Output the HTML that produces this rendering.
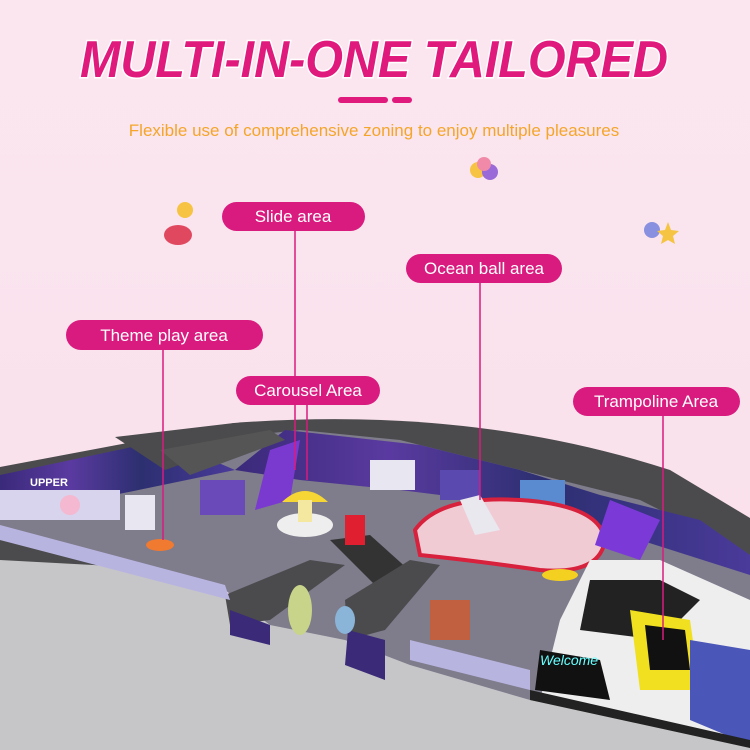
<!DOCTYPE html>
<html><head><meta charset="utf-8"><style>
html,body{margin:0;padding:0;width:750px;height:750px;overflow:hidden;background:#fae4ee}
svg{display:block}
text{font-family:"Liberation Sans",sans-serif}
</style></head><body>
<svg width="750" height="750" viewBox="0 0 750 750" xmlns="http://www.w3.org/2000/svg">
<defs>
<linearGradient id="bg" x1="0" y1="0" x2="0" y2="1"><stop offset="0" stop-color="#fbe6ef"/><stop offset="1" stop-color="#f9dfeb"/></linearGradient>
<linearGradient id="wall" x1="0" y1="0" x2="1" y2="0"><stop offset="0" stop-color="#3a2a7a"/><stop offset=".3" stop-color="#5a3aa0"/><stop offset=".6" stop-color="#2c2f70"/><stop offset="1" stop-color="#4a3a9a"/></linearGradient>
</defs>
<rect width="750" height="750" fill="url(#bg)"/>
<polygon points="0,520 230,600 750,700 750,750 0,750" fill="#c6c6c8"/>
<path d="M0,467 L234,423 Q470,405 670,470 L750,518 L750,600 L0,560 Z" fill="#4b4b4d"/>
<polygon points="0,480 160,445 300,430 400,440 520,470 640,500 750,555 750,745 530,700 410,665 345,640 270,625 225,590 0,540" fill="#7f7c8c"/>
<polygon points="0,475 165,440 235,470 90,500 0,510" fill="url(#wall)"/>
<polygon points="235,470 285,430 420,445 520,470 600,495 700,520 750,555 750,575 640,540 520,505 400,490 300,480" fill="url(#wall)"/>
<rect x="0" y="490" width="120" height="30" fill="#d9d4ee"/>
<circle cx="70" cy="505" r="10" fill="#f4b8d0"/>
<rect x="125" y="495" width="30" height="35" fill="#e8e6f0"/>
<rect x="200" y="480" width="45" height="35" fill="#6a4ab8"/>
<rect x="370" y="460" width="45" height="30" fill="#e8e6f0"/>
<rect x="440" y="470" width="40" height="30" fill="#5a4ab0"/>
<rect x="520" y="480" width="45" height="40" fill="#5a8ad0"/>
<text x="30" y="486" font-size="11" fill="#fff" font-weight="bold">UPPER</text>
<polygon points="115,437 234,423 270,433 165,470" fill="#4b4b4d"/>
<polygon points="160,450 270,430 285,440 190,475" fill="#555"/>
<polygon points="270,450 300,440 290,500 255,510" fill="#7a3ad0"/>
<ellipse cx="305" cy="525" rx="28" ry="12" fill="#eee"/>
<path d="M282,502 Q305,480 328,502 Z" fill="#f6d635"/>
<rect x="298" y="500" width="14" height="22" fill="#f4e7a0"/>
<polygon points="330,540 370,535 420,580 380,590" fill="#333"/>
<path d="M415,530 Q440,495 520,500 Q600,505 605,540 Q600,575 540,570 Q470,560 420,555 Z" fill="#f1cbd4" stroke="#d8213c" stroke-width="4"/>
<polygon points="460,500 480,495 500,530 475,535" fill="#e8e8ee"/>
<ellipse cx="560" cy="575" rx="18" ry="6" fill="#f4d020"/>
<polygon points="590,560 660,560 750,600 750,745 660,720 540,700 560,620" fill="#eee"/>
<polygon points="590,580 660,580 700,600 660,640 580,630" fill="#222"/>
<polygon points="630,610 690,620 700,690 640,690" fill="#f0e020"/>
<polygon points="645,625 685,630 690,670 650,670" fill="#111"/>
<polygon points="690,640 750,650 750,745 690,720" fill="#4a56b8"/>
<polygon points="540,650 600,660 610,700 535,690" fill="#111"/>
<text x="540" y="665" font-size="14" fill="#6ff" font-style="italic">Welcome</text>
<polygon points="610,500 660,520 640,560 595,545" fill="#7b3ad8"/>
<polygon points="225,595 310,560 345,565 270,620 230,625" fill="#4b4b4d"/>
<polygon points="230,610 270,625 270,645 230,635" fill="#3b2a78"/>
<polygon points="345,600 410,560 440,565 385,630 348,640" fill="#4b4b4d"/>
<polygon points="348,630 385,640 385,680 345,665" fill="#3b2a78"/>
<ellipse cx="300" cy="610" rx="12" ry="25" fill="#c7d48a"/>
<ellipse cx="345" cy="620" rx="10" ry="14" fill="#8ab4d8"/>
<ellipse cx="160" cy="545" rx="14" ry="6" fill="#f07a30"/>
<rect x="345" y="515" width="20" height="30" fill="#e02030"/>
<rect x="430" y="600" width="40" height="40" fill="#c06040"/>
<polygon points="0,525 225,585 230,600 0,540" fill="#b8b4e0"/>
<polygon points="410,640 530,670 530,690 410,660" fill="#b8b4e0"/>
<polygon points="530,690 750,740 750,748 530,700" fill="#222"/>
<text x="374" y="77" text-anchor="middle" font-size="52" font-weight="bold" font-style="italic" fill="#e0197d" stroke="#fff" stroke-width="3" paint-order="stroke" textLength="588" lengthAdjust="spacingAndGlyphs">MULTI-IN-ONE TAILORED</text>
<rect x="338" y="97" width="50" height="6" rx="3" fill="#e0197d"/>
<rect x="392" y="97" width="20" height="6" rx="3" fill="#e0197d"/>
<text x="374" y="136" text-anchor="middle" font-size="17" fill="#f5a52a">Flexible use of comprehensive zoning to enjoy multiple pleasures</text>
<circle cx="478" cy="170" r="8" fill="#f6c342"/><circle cx="490" cy="172" r="8" fill="#9a6ad8"/><circle cx="484" cy="164" r="7" fill="#f08aa8"/>
<circle cx="652" cy="230" r="8" fill="#8a90e0"/><polygon points="668,222 671,230 679,231 673,236 675,244 668,240 661,244 663,236 657,231 665,230" fill="#f4c442"/>
<circle cx="185" cy="210" r="8" fill="#f6c342"/><ellipse cx="178" cy="235" rx="14" ry="10" fill="#e04860"/>
<g stroke="#d91b7f" stroke-width="1.5">
<line x1="295" y1="231" x2="295" y2="470"/>
<line x1="480" y1="283" x2="480" y2="500"/>
<line x1="163" y1="350" x2="163" y2="540"/>
<line x1="307" y1="405" x2="307" y2="480"/>
<line x1="663" y1="416" x2="663" y2="640"/>
</g>
<g font-size="17" fill="#fff" text-anchor="middle">
<rect x="222" y="202" width="143" height="29" rx="14.5" fill="#d91b7f"/><text x="293" y="222">Slide area</text>
<rect x="406" y="254" width="156" height="29" rx="14.5" fill="#d91b7f"/><text x="484" y="274">Ocean ball area</text>
<rect x="66" y="320" width="197" height="30" rx="15" fill="#d91b7f"/><text x="164" y="341">Theme play area</text>
<rect x="236" y="376" width="144" height="29" rx="14.5" fill="#d91b7f"/><text x="308" y="396">Carousel Area</text>
<rect x="573" y="387" width="167" height="29" rx="14.5" fill="#d91b7f"/><text x="656" y="407">Trampoline Area</text>
</g>
</svg>
</body></html>
